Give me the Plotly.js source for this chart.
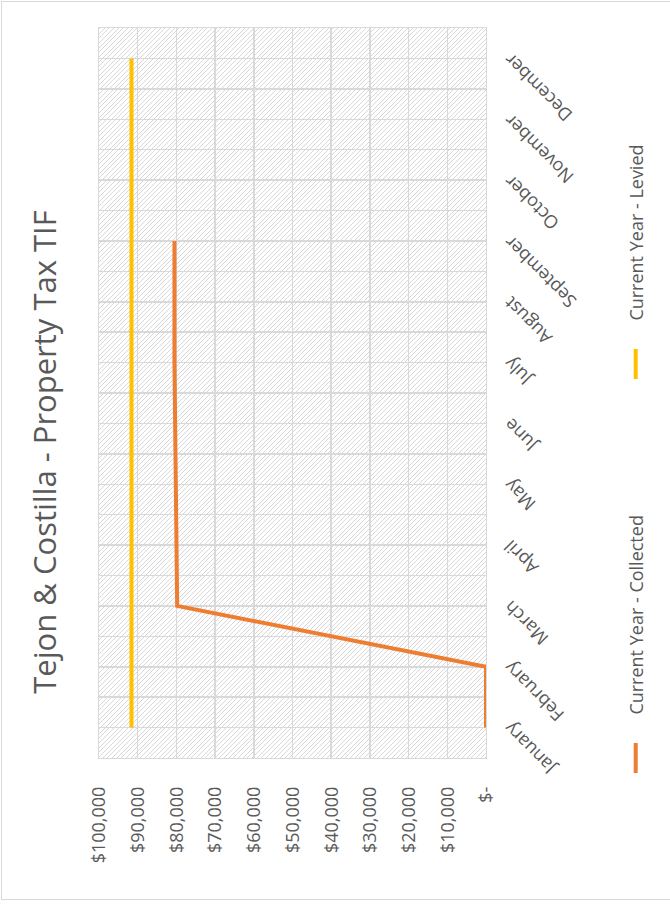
<!DOCTYPE html>
<html>
<head>
<meta charset="utf-8">
<script src="https://cdn.plot.ly/plotly-3.0.1.min.js"></script>
<style>
  html, body { margin: 0; padding: 0; background: #fff; overflow: hidden; }
  #screen { position: relative; width: 670px; height: 904px; overflow: hidden; background: #fff; }
  #frame { position: absolute; left: 0; top: 0; width: 904px; height: 670px;
           transform-origin: 0 0; transform: translate(0px, 904px) rotate(-90deg); background: #fff; }
  #hatch { position: absolute; left: 146px; top: 99px; width: 730px; height: 387px;
           background: repeating-linear-gradient(45deg, #d8d8d8 0px, #d8d8d8 0.9px, #ffffff 0.9px, #ffffff 3.3px); }
  #chart { position: absolute; left: 0; top: 0; width: 904px; height: 670px; }
  #border { position: absolute; left: 1px; top: 1px; width: 690px; height: 899px;
            border: 1px solid #d9d9d9; box-sizing: border-box; pointer-events: none; }
</style>
</head>
<body>
<div id="screen">
  <div id="frame">
    <div id="hatch"></div>
    <div id="chart"></div>
  </div>
  <div id="border"></div>
</div>
<script>
// ---- data ----
const months = ["January","February","March","April","May","June","July","August","September","October","November","December"];
const collected = [0, 0, 79800, 80000, 80200, 80450, 80500, 80500, 80500, null, null, null];
const levied = [91600, 91600, 91600, 91600, 91600, 91600, 91600, 91600, 91600, 91600, 91600, 91600];
const valueTicks = [0, 10000, 20000, 30000, 40000, 50000, 60000, 70000, 80000, 90000, 100000];
const valueTickText = ["$-", "$10,000", "$20,000", "$30,000", "$40,000", "$50,000", "$60,000", "$70,000", "$80,000", "$90,000", "$100,000"];
const seriesNames = ["Current Year - Collected", "Current Year - Levied"];
const chartTitle = "Tejon & Costilla - Property Tax TIF";

const idx = months.map((m, i) => i);
const FONT = '"Open Sans", "Liberation Sans", sans-serif';
const GREY = '#595959';
const GRID = '#d9d9d9';
const PAD = '\u00a0\u00a0\u00a0\u00a0\u00a0';

const traces = [
  { x: idx, y: collected, name: PAD + seriesNames[0], type: 'scatter', mode: 'lines',
    line: { color: '#ED7D31', width: 4 }, connectgaps: false, legend: 'legend' },
  { x: idx, y: levied, name: PAD + seriesNames[1], type: 'scatter', mode: 'lines',
    line: { color: '#FFC000', width: 4 }, legend: 'legend2' }
];

const legendBase = { orientation: 'h', xref: 'container', yref: 'container', xanchor: 'left',
  y: 1 - 636 / 670, yanchor: 'middle', font: { family: FONT, size: 18, color: GREY },
  bgcolor: 'rgba(0,0,0,0)', borderwidth: 0 };

const layout = {
  width: 904, height: 670,
  margin: { l: 146, r: 28, t: 99, b: 184, pad: 0, autoexpand: false },
  paper_bgcolor: 'rgba(0,0,0,0)',
  plot_bgcolor: 'rgba(0,0,0,0)',
  font: { family: FONT, color: GREY, size: 18 },
  title: { text: chartTitle, x: 0.5, xref: 'container', xanchor: 'center',
           y: 1 - 45 / 670, yref: 'container', yanchor: 'middle',
           font: { family: FONT, size: 31, color: GREY } },
  xaxis: {
    type: 'linear', range: [-0.5, 11.5], tickmode: 'array', tickvals: idx, ticktext: months,
    tickangle: -45, showgrid: true, gridcolor: GRID, gridwidth: 1.5, automargin: false,
    minor: { tickmode: 'linear', tick0: 0.5, dtick: 1, showgrid: true, gridcolor: GRID, gridwidth: 1.5, ticks: '' },
    zeroline: false, showline: true, mirror: true, linecolor: GRID, linewidth: 1,
    ticks: '', ticklabelstandoff: 6, tickfont: { family: FONT, size: 18, color: GREY }, fixedrange: true
  },
  yaxis: {
    range: [0, 100000], tickmode: 'array', tickvals: valueTicks, ticktext: valueTickText,
    showgrid: true, gridcolor: GRID, gridwidth: 1.5, zeroline: false, automargin: false,
    showline: true, mirror: true, linecolor: GRID, linewidth: 1,
    ticks: '', ticklabelstandoff: 24, tickfont: { family: FONT, size: 18, color: GREY }, fixedrange: true
  },
  showlegend: true,
  legend: Object.assign({}, legendBase, { x: 126 / 904 }),
  legend2: Object.assign({}, legendBase, { x: 520 / 904 })
};

Plotly.newPlot('chart', traces, layout, { displayModeBar: false, staticPlot: true });
</script>
</body>
</html>
